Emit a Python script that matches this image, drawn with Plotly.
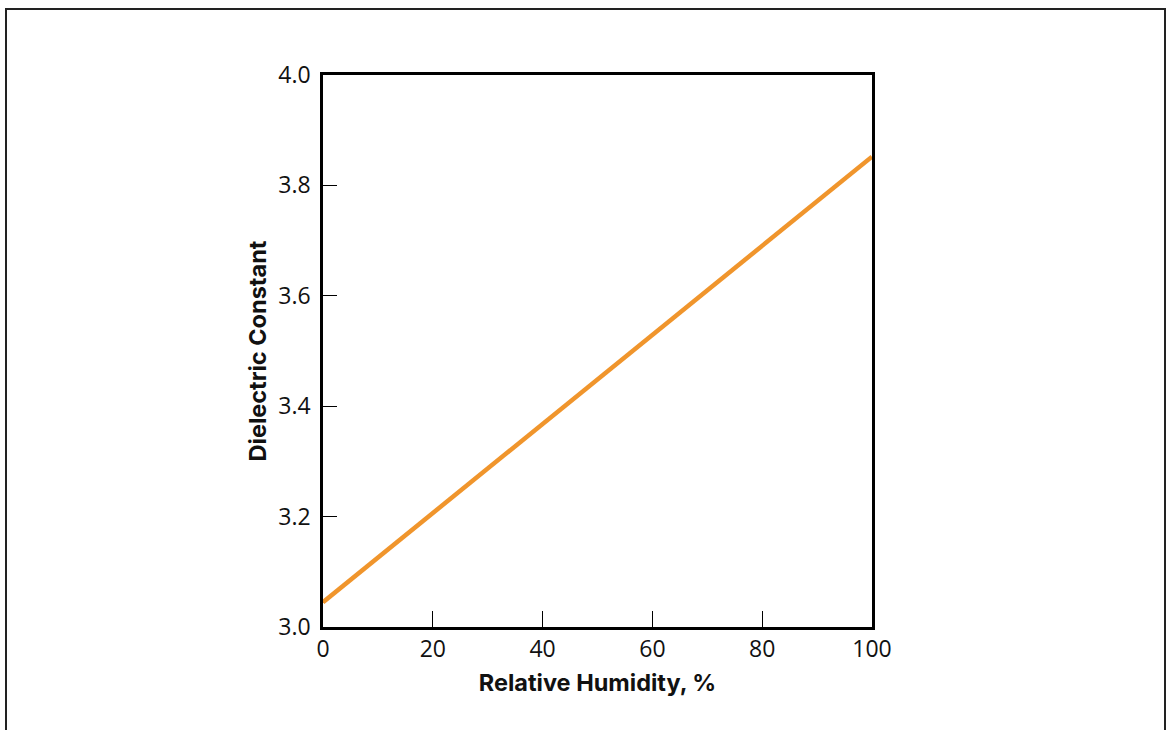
import plotly.graph_objects as go

humidity = [0, 100]
dielectric = [3.045, 3.852]
x_ticks = [0, 20, 40, 60, 80, 100]
y_ticks = [3.0, 3.2, 3.4, 3.6, 3.8, 4.0]
y_tick_labels = ["3.0", "3.2", "3.4", "3.6", "3.8", "4.0"]

fig = go.Figure()
fig.add_trace(go.Scatter(x=humidity, y=dielectric, mode="lines",
                         line=dict(color="#F0952C", width=4.5), showlegend=False))

L, R, T, B = 323, 298, 75, 103
W, H = 1170, 730
pw, ph = W - L - R, H - T - B

def px_x(p):
    return (p - L) / pw

def px_y(p):
    return (H - B - p) / ph

fig.add_shape(type="rect", xref="paper", yref="paper",
              x0=px_x(6), x1=px_x(1165), y0=px_y(745), y1=px_y(9),
              line=dict(color="#222222", width=2), fillcolor="rgba(0,0,0,0)", layer="below")

axis_font = dict(family="Open Sans, Liberation Sans, sans-serif", size=23, color="#111111")
title_font = dict(family="Inter, Liberation Sans, sans-serif", size=23.5, color="#111111")

fig.update_layout(
    width=W, height=H,
    margin=dict(l=L, r=R, t=T, b=B, pad=0),
    paper_bgcolor="white", plot_bgcolor="white",
    xaxis=dict(range=[0, 100], tickvals=x_ticks, ticks="inside", ticklen=16, tickwidth=1.2,
               tickcolor="black", showline=True, linecolor="black", linewidth=2.5, mirror=True,
               showgrid=False, zeroline=False, tickfont=axis_font,
               title=dict(text="<b>Relative Humidity, %</b>", font=title_font, standoff=12)),
    yaxis=dict(range=[3.0, 4.0], tickvals=y_ticks, ticktext=y_tick_labels, ticks="inside",
               ticklen=14, tickwidth=1.2, tickcolor="black", showline=True, linecolor="black",
               linewidth=2.5, mirror=True, showgrid=False, zeroline=False, tickfont=axis_font,
               ticklabelstandoff=5,
               title=dict(text="<b>Dielectric Constant</b>", font=title_font, standoff=6)),
)

fig.write_html("out.html", config={"displayModeBar": False},
               post_script="document.body.style.margin='0';document.body.style.overflow='hidden';")
